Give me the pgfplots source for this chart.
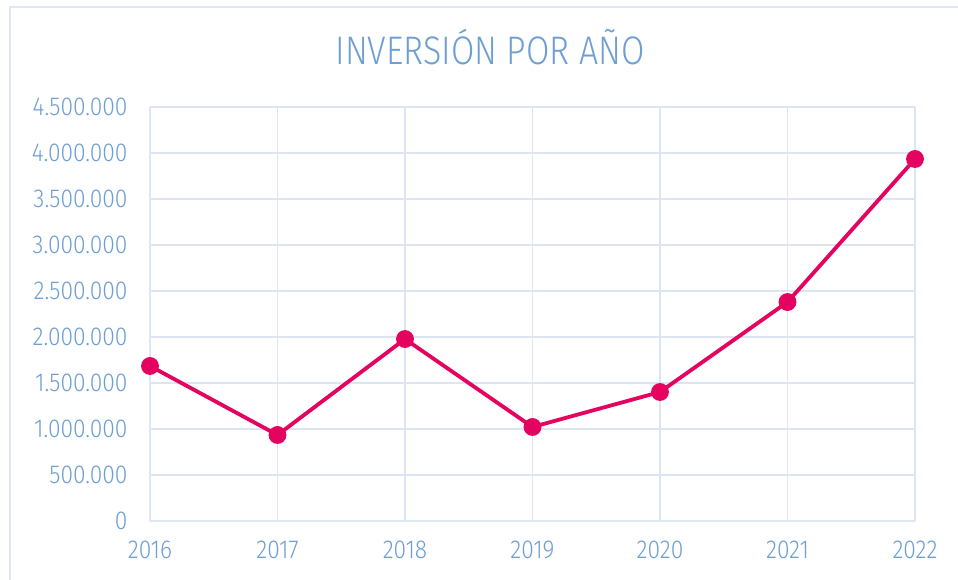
\documentclass[border=0pt]{standalone}
\usepackage{fontspec}
\setmainfont{Fira Sans}[UprightFont=* Light, FakeStretch=0.88]
\newfontfamily\titlefont{Fira Sans}[UprightFont=* Light, FakeStretch=0.85]
\usepackage{pgfplots}
\pgfplotsset{compat=1.18}
\definecolor{tickblue}{HTML}{6E9FD2}
\definecolor{gridblue}{HTML}{DCE5F1}
\definecolor{framecol}{HTML}{DEE7F3}
\definecolor{linecol}{HTML}{E4035F}
\begin{document}
\begin{tikzpicture}[x=1bp,y=1bp]
\useasboundingbox (0,0) rectangle (958,580);
\draw[framecol, line width=2.5bp] (10,-5) -- (10,573) -- (965,573);
\node[tickblue, font=\titlefont\fontsize{40}{44}\selectfont, anchor=base] at (490,515) {INVERSIÓN POR AÑO};
\begin{axis}[
  at={(150bp,59bp)}, anchor=origin,
  width=765bp, height=414bp, scale only axis,
  xmin=2016, xmax=2022, ymin=0, ymax=4500000,
  xtick={2016,2017,2018,2019,2020,2021,2022},
  xticklabels={2016,2017,2018,2019,2020,2021,2022},
  ytick={0,500000,1000000,1500000,2000000,2500000,3000000,3500000,4000000,4500000},
  scaled y ticks=false,
  /pgf/number format/.cd, fixed, 1000 sep={.}, assume math mode=true,
  /pgfplots/.cd,
  grid=major,
  major grid style={gridblue, line width=1.5bp},
  axis line style={gridblue!80!tickblue!60, line width=1.5bp},
  axis x line*=bottom, axis y line*=left,
  major tick length=0pt,
  tick style={draw=none},
  ticklabel style={tickblue, font=\fontsize{26}{28}\selectfont},
  yticklabel style={xshift=-19bp},
  xticklabel style={yshift=-16bp},
  clip=false,
]
\addplot[linecol, line width=3.8bp, mark=*, mark size=7bp, mark options={fill=linecol, draw=linecol}]
  coordinates {(2016,1685000) (2017,935000) (2018,1978000) (2019,1022000) (2020,1402000) (2021,2380000) (2022,3935000)};
\end{axis}
\end{tikzpicture}
\end{document}
